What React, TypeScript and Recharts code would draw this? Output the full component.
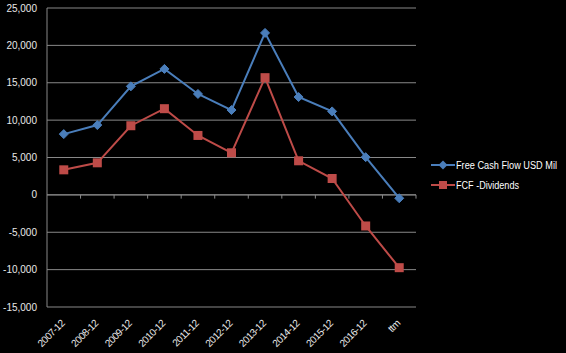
import React from "react";
import { LineChart, Line, XAxis, YAxis, CartesianGrid, ReferenceLine } from "recharts";

const categories = ["2007-12", "2008-12", "2009-12", "2010-12", "2011-12", "2012-12", "2013-12", "2014-12", "2015-12", "2016-12", "ttm"];
const fcf = [8130, 9340, 14520, 16850, 13500, 11350, 21670, 13090, 11170, 5050, -450];
const fcfDiv = [3350, 4290, 9250, 11530, 7950, 5630, 15680, 4560, 2190, -4160, -9740];
const yTicks = [-15000, -10000, -5000, 0, 5000, 10000, 15000, 20000, 25000];
const seriesNames = ["Free Cash Flow USD Mil", "FCF -Dividends"];

const BLUE = "#4A7EBB";
const RED = "#BE4B48";
const GRID = "#888888";
const TEXT = "#e8e8e8";
const FONT = "Liberation Sans, Arial, sans-serif";

const data = categories.map((c, i) => ({ idx: i, cat: c, fcf: fcf[i], fcfDiv: fcfDiv[i] }));
const boundaries = categories.map((_, i) => i + 0.5);

const Diamond = (props: any) => {
  const { cx, cy } = props;
  if (cx == null || cy == null) return null;
  const r = 4.5;
  return <polygon points={`${cx},${cy - r} ${cx + r},${cy} ${cx},${cy + r} ${cx - r},${cy}`} fill={BLUE} stroke={BLUE} strokeWidth={1} />;
};

const Square = (props: any) => {
  const { cx, cy } = props;
  if (cx == null || cy == null) return null;
  return <rect x={cx - 4.5} y={cy - 4.5} width={9} height={9} fill={RED} />;
};

const XTick = (props: any) => {
  const { x, y, payload } = props;
  const ax = x + 1.5;
  const ay = y + 9;
  return (
    <text x={ax} y={ay} transform={`rotate(-45 ${ax} ${ay})`} textAnchor="end" fill={TEXT} fontSize={10} letterSpacing={-0.5} fontFamily={FONT}>
      {categories[payload.value]}
    </text>
  );
};

const legendWidths = [101, 63];

const LegendBox = () => (
  <svg width={140} height={44} style={{ position: "absolute", left: 430, top: 156 }}>
    {seriesNames.map((n, i) => {
      const y = 9 + i * 20;
      return (
        <g key={n}>
          <line x1={1} x2={25} y1={y} y2={y} stroke={i === 0 ? BLUE : RED} strokeWidth={2} />
          {i === 0 ? (
            <polygon points={`13,${y - 4.5} 17.5,${y} 13,${y + 4.5} 8.5,${y}`} fill={BLUE} />
          ) : (
            <rect x={9} y={y - 4} width={8} height={8} fill={RED} />
          )}
          <text x={26} y={y + 3.5} fill="#ffffff" fontSize={10} fontFamily={FONT} textLength={legendWidths[i]} lengthAdjust="spacingAndGlyphs">{n}</text>
        </g>
      );
    })}
  </svg>
);

export default function App() {
  return (
    <div style={{ position: "fixed", left: 0, top: 0, width: 566, height: 353, background: "#000" }}>
      <LineChart width={566} height={353} data={data} margin={{ top: 8, right: 150, bottom: 0, left: 0 }}>
        <CartesianGrid vertical={false} stroke={GRID} strokeWidth={1} />
        <XAxis
          dataKey="idx"
          type="number"
          domain={[-0.5, 10.5]}
          ticks={categories.map((_, i) => i)}
          interval={0}
          height={46}
          axisLine={false}
          tickLine={false}
          tick={<XTick />}
        />
        <YAxis
          domain={[-15000, 25000]}
          ticks={yTicks}
          width={47}
          axisLine={{ stroke: GRID }}
          tickLine={false}
          tickFormatter={(v: number) => v.toLocaleString("en-US")}
          tick={{ fill: TEXT, fontSize: 10, fontFamily: FONT }}
          tickMargin={4}
        />
        <ReferenceLine y={0} stroke={GRID} />
        {boundaries.map((b) => (
          <ReferenceLine key={b} segment={[{ x: b, y: 0 }, { x: b, y: -500 }]} stroke={GRID} />
        ))}
        <Line type="linear" dataKey="fcf" name={seriesNames[0]} stroke={BLUE} strokeWidth={2} dot={<Diamond />} isAnimationActive={false} />
        <Line type="linear" dataKey="fcfDiv" name={seriesNames[1]} stroke={RED} strokeWidth={2} dot={<Square />} isAnimationActive={false} />
      </LineChart>
      <LegendBox />
    </div>
  );
}
